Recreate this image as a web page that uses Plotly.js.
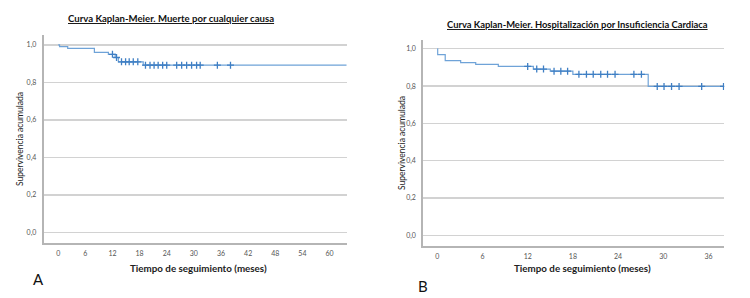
<!DOCTYPE html>
<html><head><meta charset="utf-8">
<script src="https://cdn.plot.ly/plotly-3.0.1.min.js"></script>
<style>html,body{margin:0;padding:0;background:#fff}#c{width:750px;height:298px}</style>
</head><body><div id="c"></div>
<script>
// Panel A: Muerte por cualquier causa
const aStepTimes = [0, 0.3, 2.1, 8.0, 11.1, 12.6, 13.3, 18.8];
const aStepSurv  = [1.0, 0.991, 0.982, 0.960, 0.950, 0.933, 0.910, 0.892];
const aEndTime = 63.8;
const aCensorTimes = [12.0, 12.9, 14.0, 14.9, 15.7, 16.6, 17.6, 19.3, 20.3, 21.2, 22.1, 23.1, 24.0, 26.2, 27.3, 28.4, 29.5, 30.6, 31.4, 35.2, 38.1];
const aTicks = [0, 6, 12, 18, 24, 30, 36, 42, 48, 54, 60];

// Panel B: Hospitalización por Insuficiencia Cardiaca
const bStepTimes = [0, 0.05, 1.05, 3.1, 5.1, 8.1, 12.75, 15.0, 18.0, 28.0];
const bStepSurv  = [1.0, 0.968, 0.936, 0.926, 0.916, 0.905, 0.891, 0.880, 0.863, 0.798];
const bEndTime = 38.1;
const bCensorTimes = [12.0, 13.2, 14.1, 15.5, 16.4, 17.3, 18.8, 19.8, 20.7, 21.7, 22.6, 23.6, 26.1, 27.1, 29.2, 30.1, 31.1, 32.1, 35.1, 38.0];
const bTicks = [0, 6, 12, 18, 24, 30, 36];

const yTicks = [0, 0.2, 0.4, 0.6, 0.8, 1.0];
const yTickText = ['0,0', '0,2', '0,4', '0,6', '0,8', '1,0'];

const titleA = 'Curva Kaplan-Meier. Muerte por cualquier causa';
const titleB = 'Curva Kaplan-Meier. Hospitalización por Insuficiencia Cardiaca';
const xTitle = 'Tiempo de seguimiento (meses)';
const yTitle = 'Supervivencia acumulada';

function survAt(times, surv, t) {
  let s = surv[0];
  for (let i = 0; i < times.length; i++) if (times[i] <= t) s = surv[i];
  return s;
}

const lineCol = '#6fa3d8';
const crossCol = '#3f7fc4';
const FONT = 'Lato, "Open Sans", sans-serif';

function traces(times, surv, endT, censT, xa, ya) {
  return [
    {x: times.concat([endT]), y: surv.concat([surv[surv.length-1]]), mode: 'lines',
     line: {shape: 'hv', color: lineCol, width: 1.2}, xaxis: xa, yaxis: ya, hoverinfo: 'skip'},
    {x: censT, y: censT.map(t => survAt(times, surv, t)), mode: 'markers',
     marker: {symbol: 'cross-thin-open', size: 5, color: crossCol, line: {color: crossCol, width: 1.3}},
     xaxis: xa, yaxis: ya, hoverinfo: 'skip'}
  ];
}

const data = [].concat(
  traces(aStepTimes, aStepSurv, aEndTime, aCensorTimes, 'x', 'y'),
  traces(bStepTimes, bStepSurv, bEndTime, bCensorTimes, 'x2', 'y2')
);

const tickFont = {family: FONT, size: 7, color: '#555'};
function xax(domain, ticks, range, anchor) {
  return {domain: domain, range: range, anchor: anchor, tickvals: ticks, ticktext: ticks.map(String),
    showgrid: false, zeroline: false, showline: true, linecolor: '#b5b5b5', linewidth: 2,
    ticks: '', tickfont: tickFont, ticklabelstandoff: 3, fixedrange: true};
}
function yax(domain, range, anchor) {
  return {domain: domain, range: range, anchor: anchor, tickvals: yTicks, ticktext: yTickText,
    showgrid: true, gridcolor: '#d2d2d2', gridwidth: 1.3, zeroline: false, showline: true,
    linecolor: '#b5b5b5', linewidth: 2, ticks: '', tickfont: tickFont, ticklabelstandoff: 4, fixedrange: true};
}

const layout = {
  width: 750, height: 298, margin: {l: 0, r: 0, t: 0, b: 0},
  paper_bgcolor: '#fff', plot_bgcolor: '#fff', showlegend: false,
  font: {family: FONT},
  xaxis: xax([0.0583, 0.4623], aTicks, [-3.2, 63.8], 'y'),
  yaxis: yax([0.1856, 0.8826], [-0.055, 1.053], 'x'),
  xaxis2: xax([0.5644, 0.9657], bTicks, [-1.86, 38.1], 'y2'),
  yaxis2: yax([0.1755, 0.8658], [-0.056, 1.047], 'x2'),
  annotations: [
    {text: '<b><u>' + titleA + '</u></b>', xref: 'paper', yref: 'paper', x: 170.5/750, y: 1 - 19/298,
     xanchor: 'center', yanchor: 'middle', showarrow: false, font: {family: FONT, size: 9.6, color: '#111'}},
    {text: '<b><u>' + titleB + '</u></b>', xref: 'paper', yref: 'paper', x: 577.5/750, y: 1 - 24/298,
     xanchor: 'center', yanchor: 'middle', showarrow: false, font: {family: FONT, size: 9.4, color: '#111'}},
    {text: '<b>' + xTitle + '</b>', xref: 'paper', yref: 'paper', x: 199/750, y: 1 - 268/298,
     xanchor: 'center', yanchor: 'middle', showarrow: false, font: {family: FONT, size: 9.8, color: '#222'}},
    {text: '<b>' + xTitle + '</b>', xref: 'paper', yref: 'paper', x: 582.5/750, y: 1 - 268/298,
     xanchor: 'center', yanchor: 'middle', showarrow: false, font: {family: FONT, size: 9.8, color: '#222'}},
    {text: yTitle, xref: 'paper', yref: 'paper', x: 20/750, y: 1 - 139/298, textangle: -90,
     xanchor: 'center', yanchor: 'middle', showarrow: false, font: {family: FONT, size: 8.5, color: '#222'}},
    {text: yTitle, xref: 'paper', yref: 'paper', x: 402/750, y: 1 - 143/298, textangle: -90,
     xanchor: 'center', yanchor: 'middle', showarrow: false, font: {family: FONT, size: 8.5, color: '#222'}},
    {text: 'A', xref: 'paper', yref: 'paper', x: 38/750, y: 1 - 279/298,
     xanchor: 'center', yanchor: 'middle', showarrow: false, font: {family: FONT, size: 15, color: '#111'}},
    {text: 'B', xref: 'paper', yref: 'paper', x: 423/750, y: 1 - 286/298,
     xanchor: 'center', yanchor: 'middle', showarrow: false, font: {family: FONT, size: 15, color: '#111'}}
  ]
};

Plotly.newPlot('c', data, layout, {staticPlot: true, displayModeBar: false});
</script>
</body></html>
